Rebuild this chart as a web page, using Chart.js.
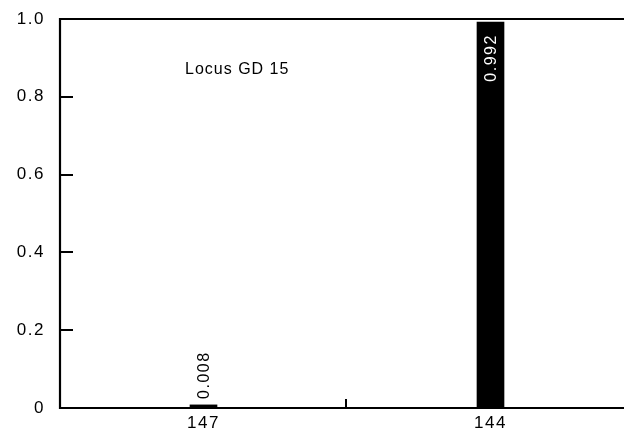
<!DOCTYPE html>
<html>
<head>
<meta charset="utf-8">
<script src="https://cdn.jsdelivr.net/npm/chart.js@4"></script>
<style>
  html, body { margin: 0; padding: 0; background: #fff; overflow: hidden; }
  #wrap { width: 634px; height: 440px; }
</style>
</head>
<body>
<div id="wrap"><canvas id="locusChart" width="634" height="440"></canvas></div>
<script>
// alelos del locus y sus frecuencias
const alleles = ['147', '144'];
const freqs = [0.008, 0.992];
const freqLabels = ['0.008', '0.992'];
const yTicks = [0, 0.2, 0.4, 0.6, 0.8, 1.0];
const chartTitle = 'Locus GD 15';

const FONT = 'Liberation Sans, Arial, Helvetica, sans-serif';

// un poco de espaciado entre letras, como en el original
const spacingPlugin = {
    id: 'spacing',
    beforeDraw(chart) { chart.ctx.letterSpacing = '1.5px'; }
};

// ejes dibujados a mano: ticks hacia dentro, linea superior, etiquetas giradas
const framePlugin = {
    id: 'frame',
    afterDraw(chart) {
        const ctx = chart.ctx;
        const area = chart.chartArea;
        const x = chart.scales.x, y = chart.scales.y;
        ctx.save();
        ctx.strokeStyle = '#000';
        ctx.lineWidth = 2.2;
        // left and bottom axis + top line
        ctx.beginPath();
        ctx.moveTo(chart.width, area.top);
        ctx.lineTo(area.left, area.top);
        ctx.lineTo(area.left, area.bottom);
        ctx.lineTo(chart.width, area.bottom);
        ctx.stroke();
        // y ticks pointing inward
        ctx.lineWidth = 2;
        yTicks.forEach(v => {
            if (v === 0 || v === 1) return;
            const py = Math.round(y.getPixelForValue(v));
            ctx.beginPath();
            ctx.moveTo(area.left, py);
            ctx.lineTo(area.left + 13, py);
            ctx.stroke();
        });
        // x separator ticks
        for (let i = 0; i < alleles.length - 1; i++) {
            const px = Math.round((x.getPixelForValue(i) + x.getPixelForValue(i + 1)) / 2) - 1;
            ctx.beginPath();
            ctx.moveTo(px, area.bottom);
            ctx.lineTo(px, area.bottom - 9);
            ctx.stroke();
        }
        // title
        ctx.fillStyle = '#000';
        ctx.letterSpacing = '1px';
        ctx.font = '16px ' + FONT;
        ctx.textAlign = 'left';
        ctx.textBaseline = 'middle';
        ctx.fillText(chartTitle, 185, 70);
        // value labels, rotated
        ctx.letterSpacing = '1.5px';
        const meta = chart.getDatasetMeta(0);
        meta.data.forEach((bar, i) => {
            ctx.save();
            ctx.translate(bar.x, bar.y);
            ctx.rotate(-Math.PI / 2);
            ctx.font = '16px ' + FONT;
            ctx.textBaseline = 'middle';
            if (freqs[i] > 0.5) {
                ctx.fillStyle = '#fff';
                ctx.textAlign = 'right';
                ctx.fillText(freqLabels[i], -12, 1);
            } else {
                ctx.fillStyle = '#000';
                ctx.textAlign = 'left';
                ctx.fillText(freqLabels[i], 6, 1);
            }
            ctx.restore();
        });
        ctx.restore();
    }
};

const config = {
    type: 'bar',
    data: {
        labels: alleles,
        datasets: [{
            data: freqs,
            backgroundColor: '#000',
            borderWidth: 0,
            barThickness: 27
        }]
    },
    options: {
        responsive: false,
        animation: false,
        layout: { padding: { top: 19, right: 0, left: 0, bottom: 0 } },
        scales: {
            x: {
                grid: { display: false, drawTicks: false },
                border: { display: false },
                ticks: { color: '#000', font: { family: FONT, size: 17 }, padding: 5 },
                afterFit(s) { s.height = 32; s.paddingLeft = 0; s.paddingRight = 0; }
            },
            y: {
                min: 0,
                max: 1,
                grid: { display: false, drawTicks: false },
                border: { display: false },
                afterBuildTicks(s) { s.ticks = yTicks.map(v => ({ value: v })); },
                ticks: {
                    color: '#000',
                    font: { family: FONT, size: 17 },
                    padding: 15,
                    callback: v => v === 0 ? '0' : v.toFixed(1)
                },
                afterFit(s) { s.width = 60; s.paddingTop = 0; s.paddingBottom = 0; }
            }
        },
        plugins: {
            legend: { display: false },
            tooltip: { enabled: false }
        }
    },
    plugins: [spacingPlugin, framePlugin]
};

const ctx = document.getElementById('locusChart').getContext('2d');
const locusChart = new Chart(ctx, config);
</script>
</body>
</html>
